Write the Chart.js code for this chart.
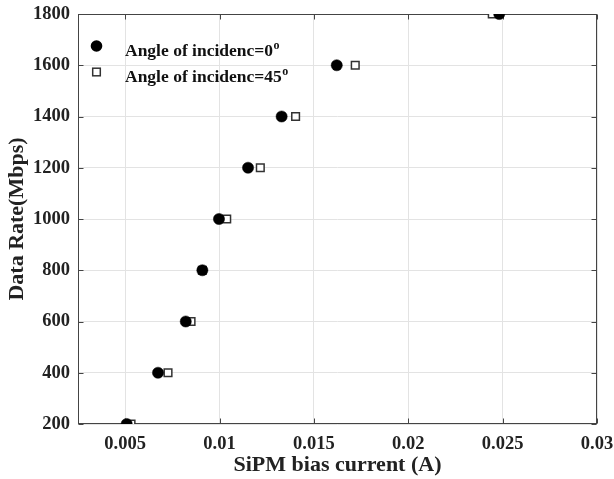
<!DOCTYPE html>
<html>
<head>
<meta charset="utf-8">
<script src="https://cdn.jsdelivr.net/npm/chart.js@4.4.1/dist/chart.umd.min.js"></script>
<style>
  html, body { margin: 0; padding: 0; background: #fff; }
  #wrap { width: 614px; height: 479px; }
</style>
</head>
<body>
<div id="wrap"><canvas id="c" width="614" height="479"></canvas></div>
<script>
// Data rate levels (Mbps)
const dataRates = [200, 400, 600, 800, 1000, 1200, 1400, 1600, 1800];
// SiPM bias current (A) at each data rate, angle of incidence 0 deg
const current0 = [0.00508, 0.00674, 0.00821, 0.00909, 0.00997, 0.01151, 0.01329, 0.01621, 0.02482];
// SiPM bias current (A) at each data rate, angle of incidence 45 deg
const current45 = [0.00531, 0.00727, 0.00849, 0.00909, 0.01038, 0.01216, 0.01403, 0.01719, 0.02445];
// Axis ticks
const xTickValues = [0.005, 0.01, 0.015, 0.02, 0.025, 0.03];
const xTickLabels = ['0.005', '0.01', '0.015', '0.02', '0.025', '0.03'];
const yTickValues = [200, 400, 600, 800, 1000, 1200, 1400, 1600, 1800];
const seriesNames = ['Angle of incidenc=0', 'Angle of incidenc=45'];

const FONT = '"Liberation Serif", "Times New Roman", serif';
const AXIS_COLOR = '#444';

const toPoints = (xs) => xs.map((x, i) => ({ x: x, y: dataRates[i] }));

// Frame, inward tick marks and the legend box contents
const framePlugin = {
  id: 'frame',
  beforeDatasetsDraw(chart) {
    const { ctx, chartArea: a, scales } = chart;
    ctx.save();
    ctx.strokeStyle = AXIS_COLOR;
    ctx.lineWidth = 1;
    const L = Math.round(a.left) + 0.5, R = Math.round(a.right) - 0.5;
    const T = Math.round(a.top) + 0.5, B = Math.round(a.bottom) - 0.5;
    ctx.strokeRect(L, T, R - L, B - T);
    const tl = 5;
    ctx.beginPath();
    xTickValues.forEach(v => {
      const px = Math.round(scales.x.getPixelForValue(v)) + 0.5;
      ctx.moveTo(px, B); ctx.lineTo(px, B - tl);
      ctx.moveTo(px, T); ctx.lineTo(px, T + tl);
    });
    yTickValues.forEach(v => {
      const py = Math.round(scales.y.getPixelForValue(v)) + 0.5;
      ctx.moveTo(L, py); ctx.lineTo(L + tl, py);
      ctx.moveTo(R, py); ctx.lineTo(R - tl, py);
    });
    ctx.stroke();
    ctx.restore();
  },
  afterDraw(chart) {
    const { ctx, chartArea: a } = chart;
    ctx.save();
    const mx = a.left + 18.5;
    const tx = a.left + 47;
    const rows = [a.top + 32, a.top + 58];
    // markers
    ctx.fillStyle = '#000';
    ctx.beginPath();
    ctx.arc(mx, rows[0], 5.8, 0, Math.PI * 2);
    ctx.fill();
    ctx.fillStyle = '#fff';
    ctx.strokeStyle = '#333';
    ctx.lineWidth = 1.5;
    ctx.fillRect(mx - 3.8, rows[1] - 3.8, 7.6, 7.6);
    ctx.strokeRect(mx - 3.8, rows[1] - 3.8, 7.6, 7.6);
    // labels with superscript degree "o"
    ctx.fillStyle = '#111';
    ctx.textBaseline = 'alphabetic';
    ctx.textAlign = 'left';
    seriesNames.forEach((name, i) => {
      const base = rows[i] + 9.5;
      ctx.font = 'bold 17.5px ' + FONT;
      ctx.fillText(name, tx, base);
      const w = ctx.measureText(name).width;
      ctx.font = 'bold 12px ' + FONT;
      ctx.fillText('o', tx + w + 0.5, base - 6.5);
    });
    ctx.restore();
  }
};

new Chart(document.getElementById('c'), {
  type: 'scatter',
  data: {
    datasets: [
      {
        label: seriesNames[0],
        data: toPoints(current0),
        pointStyle: 'circle',
        pointRadius: 5.6,
        pointHoverRadius: 5.6,
        backgroundColor: '#000',
        borderColor: '#000',
        borderWidth: 0.5
      },
      {
        label: seriesNames[1],
        data: toPoints(current45),
        pointStyle: 'rect',
        pointRadius: 5.4,
        pointHoverRadius: 5.4,
        backgroundColor: '#fff',
        borderColor: '#333',
        borderWidth: 1.5
      }
    ]
  },
  options: {
    responsive: false,
    animation: false,
    devicePixelRatio: 1,
    layout: { padding: { left: 0, right: 17, top: 14, bottom: 0 } },
    plugins: {
      legend: { display: false },
      tooltip: { enabled: false }
    },
    scales: {
      x: {
        type: 'linear',
        min: 0.0025,
        max: 0.03,
        afterBuildTicks(scale) {
          scale.ticks = xTickValues.map(v => ({ value: v }));
        },
        afterFit(scale) {
          scale.height = 55;
          scale.paddingLeft = 0;
          scale.paddingRight = 0;
        },
        ticks: {
          padding: 9,
          color: '#222',
          font: { family: FONT, size: 18.5, weight: 'bold' },
          callback: (v) => {
            const i = xTickValues.findIndex(t => Math.abs(t - v) < 1e-9);
            return i >= 0 ? xTickLabels[i] : '';
          }
        },
        grid: { color: '#e3e3e3', lineWidth: 1, drawTicks: false },
        border: { display: false },
        title: {
          display: true,
          text: 'SiPM bias current (A)',
          color: '#222',
          font: { family: FONT, size: 22, weight: 'bold' },
          padding: { top: 0, bottom: 0 }
        }
      },
      y: {
        type: 'linear',
        min: 200,
        max: 1800,
        afterBuildTicks(scale) {
          scale.ticks = yTickValues.map(v => ({ value: v }));
        },
        afterFit(scale) {
          scale.width = 78;
          scale.paddingTop = 0;
          scale.paddingBottom = 0;
        },
        ticks: {
          padding: 8,
          color: '#222',
          font: { family: FONT, size: 18.5, weight: 'bold' },
          callback: (v) => String(v)
        },
        grid: { color: '#e3e3e3', lineWidth: 1, drawTicks: false },
        border: { display: false },
        title: {
          display: true,
          text: 'Data Rate(Mbps)',
          color: '#222',
          font: { family: FONT, size: 22, weight: 'bold' },
          padding: { top: 4, bottom: 0 }
        }
      }
    }
  },
  plugins: [framePlugin]
});
</script>
</body>
</html>
